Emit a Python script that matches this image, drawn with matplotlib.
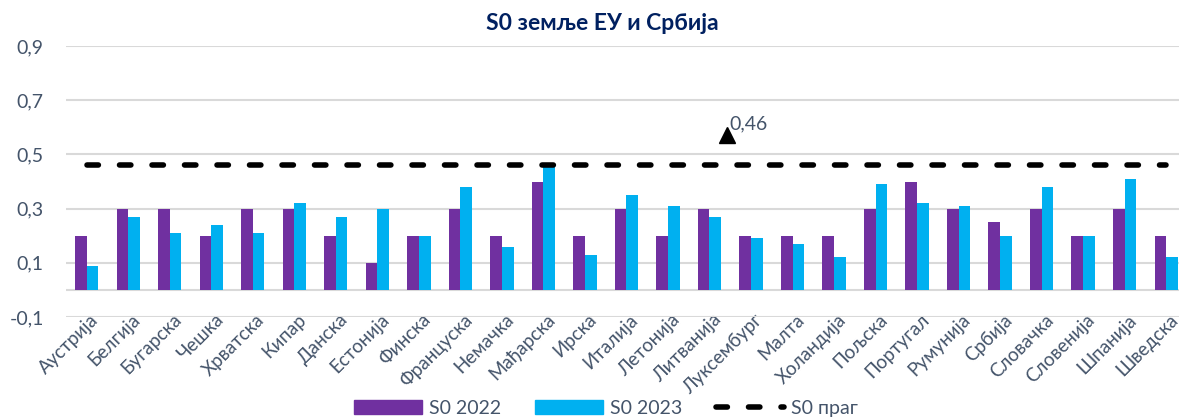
import matplotlib.pyplot as plt
import matplotlib.transforms as mtransforms
from matplotlib.patches import Patch
from matplotlib.lines import Line2D
import numpy as np

zemlje = ['Аустрија', 'Белгија', 'Бугарска', 'Чешка', 'Хрватска', 'Кипар', 'Данска',
          'Естонија', 'Финска', 'Француска', 'Немачка', 'Мађарска', 'Ирска', 'Италија',
          'Летонија', 'Литванија', 'Луксембург', 'Малта', 'Холандија', 'Пољска',
          'Португал', 'Румунија', 'Србија', 'Словачка', 'Словенија', 'Шпанија', 'Шведска']
s0_2022 = [0.2, 0.3, 0.3, 0.2, 0.3, 0.3, 0.2, 0.1, 0.2, 0.3, 0.2, 0.4, 0.2, 0.3,
           0.2, 0.3, 0.2, 0.2, 0.2, 0.3, 0.4, 0.3, 0.25, 0.3, 0.2, 0.3, 0.2]
s0_2023 = [0.09, 0.27, 0.21, 0.24, 0.21, 0.32, 0.27, 0.3, 0.2, 0.38, 0.16, 0.46, 0.13, 0.35,
           0.31, 0.27, 0.19, 0.17, 0.12, 0.39, 0.32, 0.31, 0.2, 0.38, 0.2, 0.41, 0.12]
prag = 0.46

plt.rcParams['font.family'] = ['Lato', 'DejaVu Sans']
tekst = '#44546A'
ljub = '#7030A0'
plava = '#00B0F0'

fig = plt.figure(figsize=(11.79, 4.19), dpi=100)
ax = fig.add_axes([0.056, 0.2434, 0.944, 0.6466])

x = np.arange(len(zemlje))
w = 0.28
ax.bar(x - w / 2, s0_2022, w, color=ljub, zorder=3)
ax.bar(x + w / 2, s0_2023, w, color=plava, zorder=3)
stil = dict(color='black', lw=4, dashes=(2.05, 3.8), dash_capstyle='round')
ax.plot([x[0], x[-1]], [prag, prag], zorder=4, **stil)

# oznaka praga
ax.plot(15.42, 0.57, marker='^', color='black', ms=11, zorder=5)
ax.text(15.47, 0.592, f'{prag:.2f}'.replace('.', ','), color=tekst, fontsize=14,
        va='baseline', ha='left')

ax.set_ylim(-0.1, 0.9)
ax.set_xlim(-0.5, 26.31)
yt = [-0.1, 0.1, 0.3, 0.5, 0.7, 0.9]
ax.set_yticks(yt)
ax.set_yticklabels([f'{v:.1f}'.replace('.', ',') for v in yt], color=tekst, fontsize=14)
ax.grid(axis='y', color='#D9D9D9', lw=1.5, zorder=0)
ax.axhline(0, color='#D9D9D9', lw=1.5, zorder=1)
ax.set_xticks(x)
ax.set_xticklabels(zemlje, rotation=45, ha='right', va='top', rotation_mode='anchor',
                   color=tekst, fontsize=13.5)
ax.tick_params(length=0)
ax.tick_params(axis='y', pad=16)
ax.tick_params(axis='x', pad=0)
pomak = mtransforms.ScaledTranslation(0.03, 0.06, fig.dpi_scale_trans)
for lab in ax.get_xticklabels():
    lab.set_transform(lab.get_transform() + pomak)
for s in ax.spines.values():
    s.set_visible(False)

fig.text(0.511, 1 - 23 / 419, 'S0 земље ЕУ и Србија', color='#002060', fontsize=16.5,
         fontweight='bold', ha='center', va='center')

rucke = [Patch(color=ljub, label='S0 2022'), Patch(color=plava, label='S0 2023'),
         Line2D([], [], label='S0 праг', **stil)]
leg = fig.legend(handles=rucke, loc='center', bbox_to_anchor=(0.514, 0.026), ncol=3,
                 frameon=False, fontsize=14, handlelength=3.5, handleheight=0.72,
                 handletextpad=0.35, columnspacing=1.75, borderpad=0)
for t in leg.get_texts():
    t.set_color(tekst)

fig.savefig('out.png', dpi=100)
